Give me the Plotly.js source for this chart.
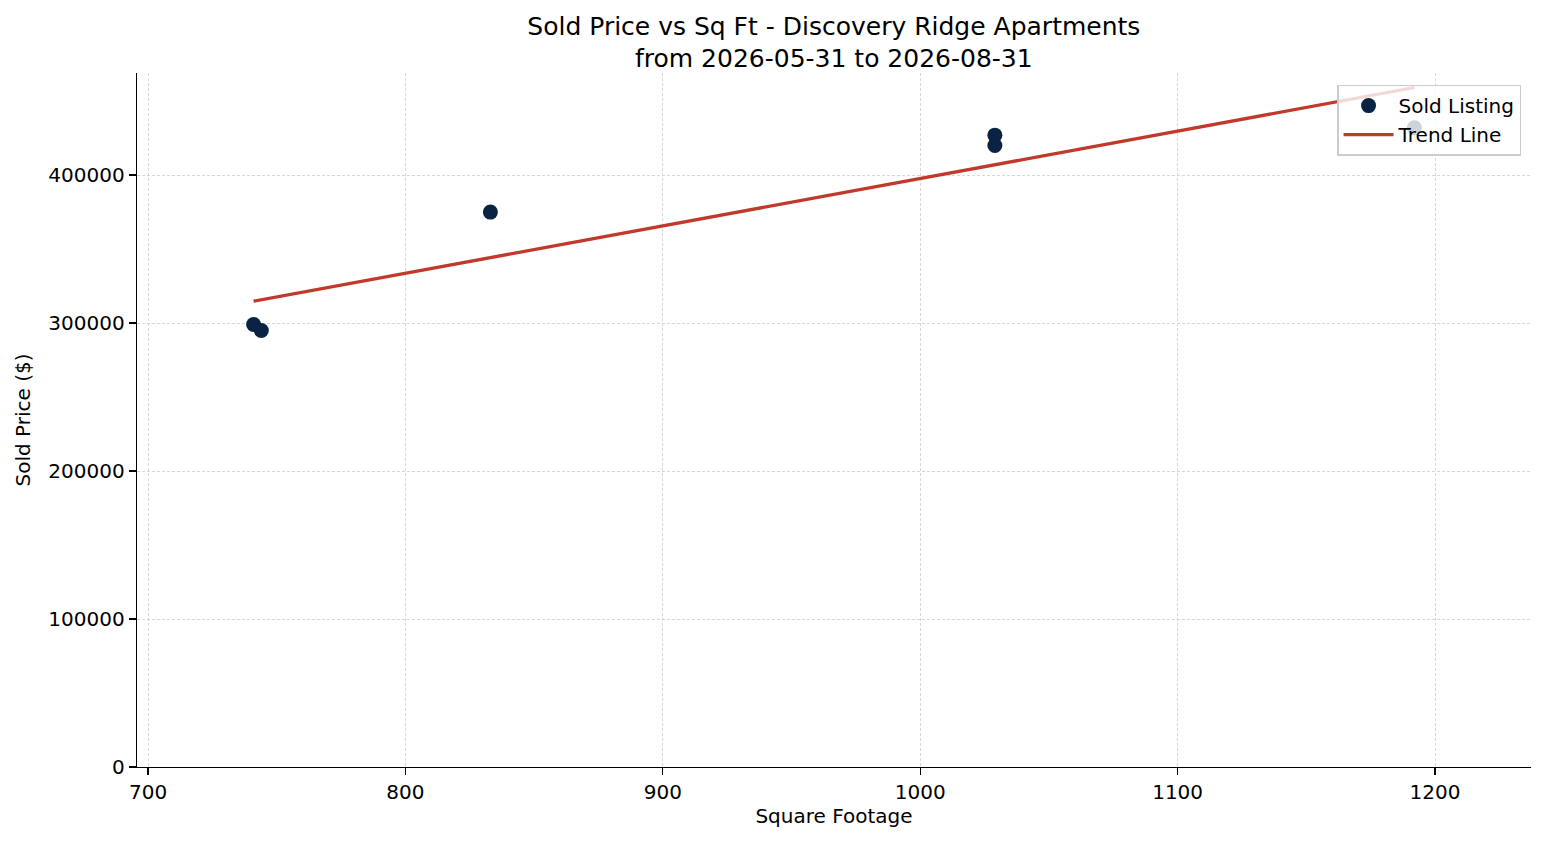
<!DOCTYPE html>
<html>
<head>
<meta charset="utf-8">
<script src="https://cdn.plot.ly/plotly-3.0.1.min.js"></script>
<style>html,body{margin:0;padding:0;background:#fff;}#chart{width:1547px;height:845px;}</style>
</head>
<body>
<div id="chart"></div>
<script>
const sqft = [741, 744, 833, 1029, 1029, 1192];
const soldPrice = [299000, 295000, 375000, 427000, 420000, 432000];
const xTicks = [700, 800, 900, 1000, 1100, 1200];
const yTicks = [0, 100000, 200000, 300000, 400000];

// least-squares trend line from the data
const n = sqft.length;
const mx = sqft.reduce((a, b) => a + b, 0) / n;
const my = soldPrice.reduce((a, b) => a + b, 0) / n;
let sxy = 0, sxx = 0;
for (let i = 0; i < n; i++) { sxy += (sqft[i] - mx) * (soldPrice[i] - my); sxx += (sqft[i] - mx) ** 2; }
const slope = sxy / sxx, intercept = my - slope * mx;
const trendX = [Math.min(...sqft), Math.max(...sqft)];
const trendY = trendX.map(x => intercept + slope * x);

const font = "DejaVu Sans, sans-serif";
const traces = [
  { x: sqft, y: soldPrice, type: 'scatter', mode: 'markers', name: 'Sold Listing',
    marker: { color: '#0b2343', size: 15 } },
  { x: trendX, y: trendY, type: 'scatter', mode: 'lines', name: 'Trend Line',
    line: { color: '#c0392b', width: 3.3 } }
];
const layout = {
  width: 1547, height: 845,
  margin: { l: 137, r: 16, t: 73, b: 78 },
  paper_bgcolor: '#fff', plot_bgcolor: '#fff',
  font: { family: font, size: 20, color: '#000' },
  title: { text: 'Sold Price vs Sq Ft - Discovery Ridge Apartments<br>from 2026-05-31 to 2026-08-31',
    font: { family: font, size: 25, color: '#000' }, x: 0.539, xanchor: 'center', y: 0.959, yanchor: 'middle' },
  xaxis: { range: [695.7, 1237.3], tickvals: xTicks, ticktext: xTicks.map(String),
    showgrid: true, gridcolor: '#d3d3d3', griddash: '3px,2px', gridwidth: 0.9,
    showline: true, linecolor: '#000', linewidth: 1.3, ticks: 'outside', ticklen: 7, tickcolor: '#000', tickwidth: 1.3,
    zeroline: false, tickfont: { size: 20 },
    title: { text: 'Square Footage', font: { size: 20 }, standoff: 5 } },
  yaxis: { range: [0, 469000], tickvals: yTicks, ticktext: yTicks.map(String),
    showgrid: true, gridcolor: '#d3d3d3', griddash: '3px,2px', gridwidth: 0.9,
    showline: true, linecolor: '#000', linewidth: 1.3, ticks: 'outside', ticklen: 7, tickcolor: '#000', tickwidth: 1.3,
    zeroline: false, tickfont: { size: 20 },
    title: { text: 'Sold Price ($)', font: { size: 20 }, standoff: 12 } },
  legend: { x: 0.993, y: 0.983, xanchor: 'right', yanchor: 'top',
    bgcolor: 'rgba(255,255,255,0.8)', bordercolor: '#cccccc', borderwidth: 1.3,
    font: { size: 20 }, tracegroupgap: 0, itemwidth: 50 },
  showlegend: true
};
Plotly.newPlot('chart', traces, layout, { displayModeBar: false, staticPlot: true });
</script>
</body>
</html>
